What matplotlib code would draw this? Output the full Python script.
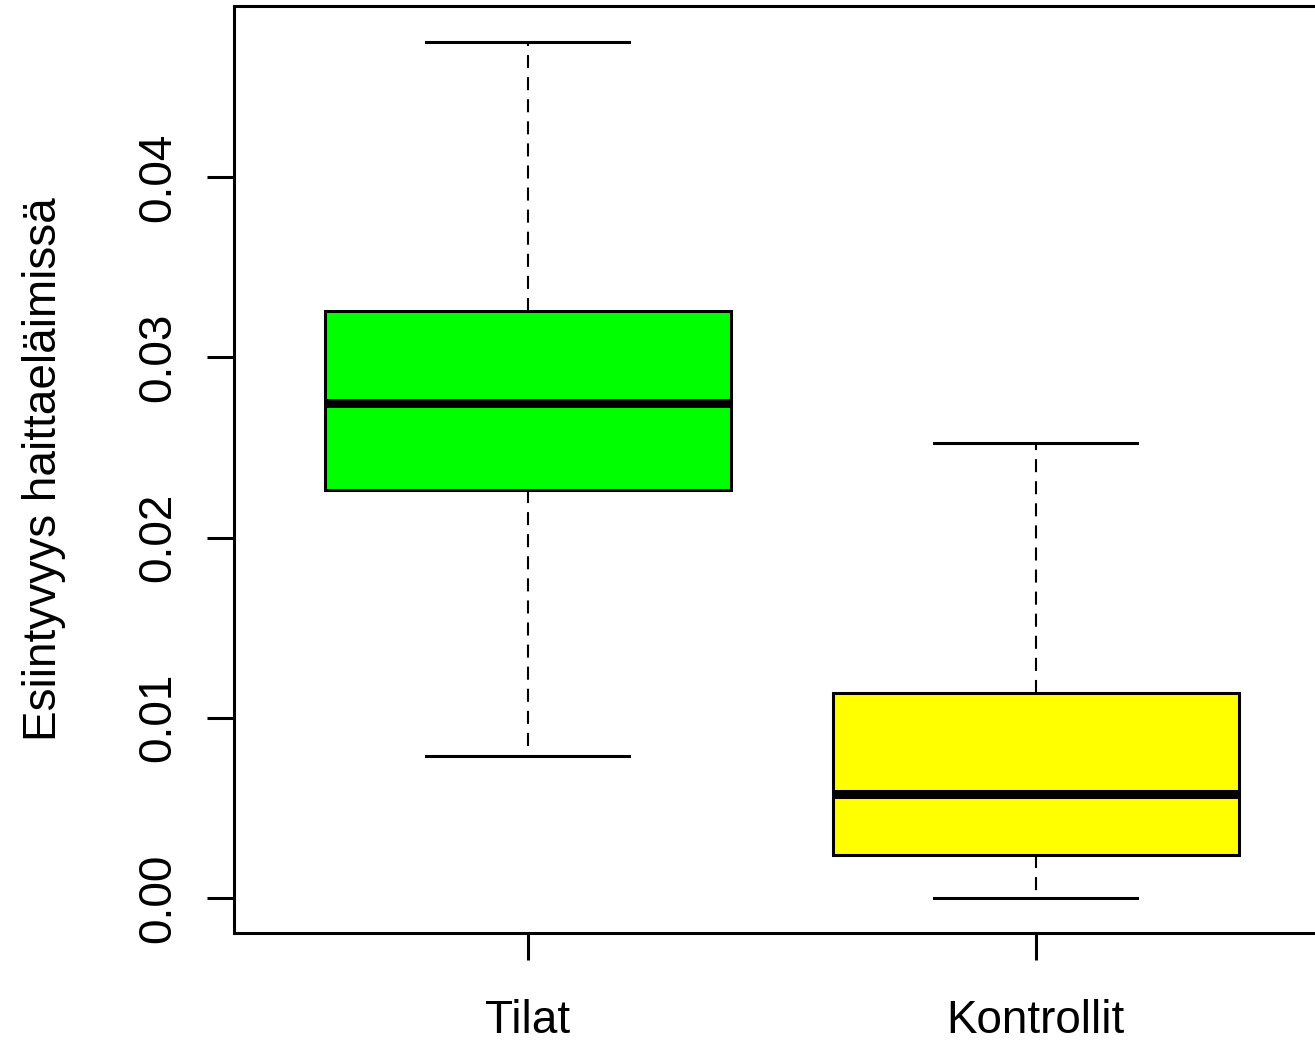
import matplotlib
matplotlib.use("Agg")
import matplotlib.pyplot as plt

# ---- data ----
categories = ["Tilat", "Kontrollit"]
whisker_low = [0.00788, 0.0]
q1 = [0.02264, 0.00239]
medians = [0.02746, 0.00577]
q3 = [0.03257, 0.01137]
whisker_high = [0.04749, 0.02524]
box_colors = ["#00FF00", "#FFFF00"]
ytick_values = [0.00, 0.01, 0.02, 0.03, 0.04]
ytick_labels = ["0.00", "0.01", "0.02", "0.03", "0.04"]
ylabel = "Esiintyvyys haittaeläimissä"

plt.rcParams["font.family"] = ["Liberation Sans Narrow", "Liberation Sans", "DejaVu Sans"]
plt.rcParams["lines.scale_dashes"] = False

W, H = 1315, 1042
fig = plt.figure(figsize=(W / 100, H / 100), dpi=100)
ax = fig.add_axes([233.5 / W, 1 - 933 / H, (1330 - 233.5) / W, (933 - 6) / H])

stats = []
for i, name in enumerate(categories):
    stats.append(dict(label=name, whislo=whisker_low[i], q1=q1[i], med=medians[i],
                      q3=q3[i], whishi=whisker_high[i], fliers=[]))

bp = ax.bxp(stats, positions=[1, 2], widths=0.8, capwidths=0.4, patch_artist=True,
            showfliers=False,
            boxprops=dict(linewidth=2.2, edgecolor="black"),
            medianprops=dict(color="black", linewidth=6.5, solid_capstyle="butt"),
            whiskerprops=dict(color="black", linewidth=1.5, linestyle=(0, (9.4, 6.5))),
            capprops=dict(color="black", linewidth=2.2))
for patch, c in zip(bp["boxes"], box_colors):
    patch.set_facecolor(c)

ax.set_xlim(0.42, 2.58)
ax.set_ylim(-0.00194, 0.04949)
ax.set_yticks(ytick_values)
ax.set_yticklabels(ytick_labels, rotation=90, va="center")
ax.set_xticks([1, 2])
ax.set_xticklabels(categories)

for s in ax.spines.values():
    s.set_linewidth(2.2)
ax.tick_params(axis="both", length=19.4, width=2.2, labelsize=33, color="black")
ax.tick_params(axis="y", pad=18.7)
ax.tick_params(axis="x", pad=28)

fig.text(44 / W, 1 - 469.5 / H, ylabel, rotation=90, ha="center", va="center", fontsize=33)

fig.savefig("out.png", dpi=100)
